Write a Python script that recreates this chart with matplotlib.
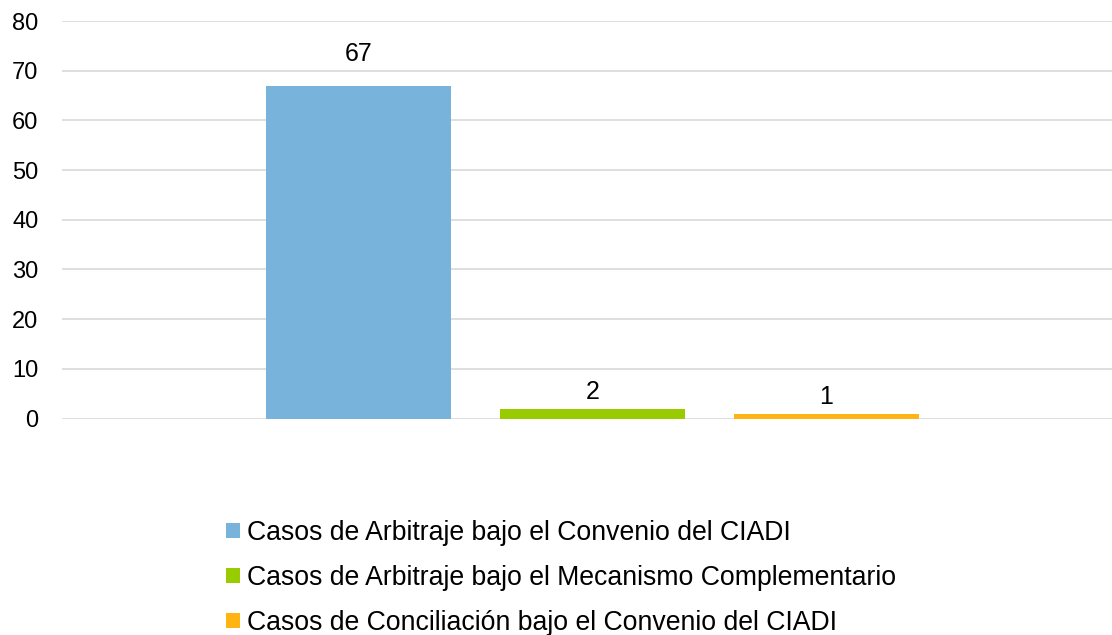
import matplotlib
matplotlib.use("Agg")
import matplotlib.pyplot as plt
from matplotlib.patches import Patch

series = ["Casos de Arbitraje bajo el Convenio del CIADI",
          "Casos de Arbitraje bajo el Mecanismo Complementario",
          "Casos de Conciliación bajo el Convenio del CIADI"]
values = [67, 2, 1]
colors = ["#77B3DB", "#99CC00", "#FFB414"]
yticks = [0, 10, 20, 30, 40, 50, 60, 70, 80]

plt.rcParams['font.family'] = ['Liberation Sans', 'DejaVu Sans']

W, H = 1112, 635
fig = plt.figure(figsize=(W/100, H/100), dpi=100)
ax = fig.add_axes([62/W, 1-418.5/H, 1-62/W, (418.5-21)/H])

xs = [0, 1, 2]
pads = [14, 3, 3]
for x, v, c, s, p in zip(xs, values, colors, series, pads):
    b = ax.bar(x, v, width=0.79, color=c, label=s, zorder=3)
    ax.bar_label(b, labels=[str(v)], padding=p, fontsize=18, color="#000000")

ax.set_xlim(-1.267, 3.22)
ax.set_ylim(0, 80)
ax.set_yticks(yticks)
ax.set_xticks([])
ax.grid(axis='y', color='#D9D9D9', linewidth=1.2, zorder=0)
ax.set_axisbelow(True)
for sp in ax.spines.values():
    sp.set_visible(False)
ax.tick_params(axis='y', length=0, pad=17, labelsize=17, labelcolor="#000000")

handles = [Patch(facecolor=c, edgecolor='none') for c in colors]
fig.legend(handles, series, loc='upper left', bbox_to_anchor=(226/W, 1-520/H),
           frameon=False, fontsize=19.2, handlelength=0.53, handleheight=0.53,
           handletextpad=0.24, labelspacing=0.71, borderpad=0, borderaxespad=0)

fig.savefig("out.png", dpi=100)
